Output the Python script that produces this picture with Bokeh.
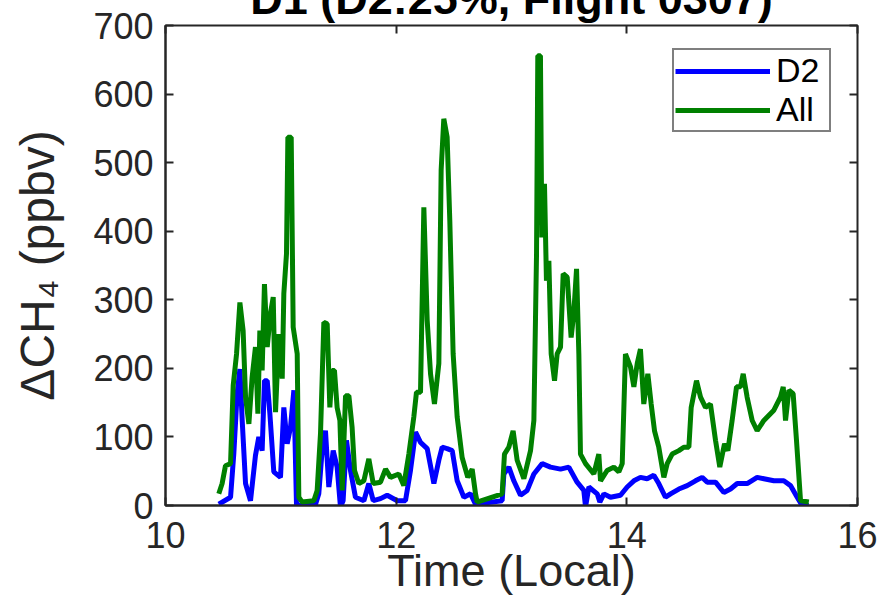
from bokeh.plotting import figure
from bokeh.models import (LinearAxis, FixedTicker, Range1d, Legend, LegendItem,
                          ColumnDataSource)
from bokeh.embed import file_html
from bokeh.resources import INLINE

# ---------------- data ----------------
all_time = [10.462, 10.491, 10.520, 10.564, 10.587, 10.616, 10.645, 10.673, 10.694, 10.723,
            10.751, 10.780, 10.801, 10.818, 10.838, 10.858, 10.882, 10.910, 10.934, 10.954,
            10.983, 11.012, 11.026, 11.049, 11.061, 11.090, 11.107, 11.142, 11.156, 11.185,
            11.286, 11.315, 11.344, 11.373, 11.402, 11.425, 11.445, 11.465, 11.488, 11.512,
            11.532, 11.561, 11.590, 11.618, 11.639, 11.676, 11.720, 11.763, 11.801, 11.864,
            11.908, 11.951, 12.023, 12.066, 12.110, 12.153, 12.176, 12.211, 12.240, 12.269,
            12.298, 12.332, 12.370, 12.390, 12.413, 12.442, 12.465, 12.494, 12.529, 12.572,
            12.621, 12.659, 12.688, 12.702, 12.919, 12.939, 12.977, 13.014, 13.049, 13.107,
            13.165, 13.194, 13.217, 13.228, 13.251, 13.263, 13.286, 13.303, 13.324, 13.344,
            13.373, 13.396, 13.425, 13.448, 13.483, 13.517, 13.540, 13.564, 13.584, 13.598,
            13.642, 13.714, 13.757, 13.772, 13.829, 13.887, 13.931, 13.960, 13.988, 14.032,
            14.061, 14.090, 14.118, 14.147, 14.182, 14.211, 14.240, 14.277, 14.321, 14.350,
            14.393, 14.451, 14.494, 14.538, 14.558, 14.604, 14.639, 14.682, 14.725, 14.769,
            14.806, 14.847, 14.876, 14.913, 14.951, 14.986, 15.009, 15.043, 15.087, 15.130,
            15.188, 15.275, 15.332, 15.356, 15.376, 15.405, 15.442, 15.471, 15.506, 15.578]
all_ch4 = [17, 32, 58, 61, 175, 221, 296, 255, 158, 119,
           187, 231, 134, 255, 197, 323, 231, 280, 304, 136,
           250, 185, 309, 367, 537, 537, 260, 221, 12, 5,
           7, 22, 105, 267, 265, 143, 197, 197, 143, 124,
           22, 160, 160, 114, 51, 32, 36, 68, 32, 34,
           53, 41, 46, 29, 75, 129, 165, 165, 435, 270,
           192, 148, 207, 489, 564, 537, 416, 221, 129, 70,
           41, 53, 17, 5, 17, 75, 85, 109, 66, 39,
           80, 124, 367, 656, 656, 391, 469, 328, 357, 221,
           182, 221, 231, 338, 333, 245, 280, 345, 221, 75,
           61, 46, 75, 36, 51, 56, 49, 61, 221, 202,
           173, 207, 228, 148, 192, 148, 109, 85, 41, 61,
           75, 80, 85, 85, 143, 182, 158, 143, 148, 95,
           56, 90, 80, 124, 173, 173, 192, 158, 124, 109,
           124, 139, 158, 173, 124, 168, 163, 95, 7, 5]

d2_time = [10.462, 10.564, 10.592, 10.621, 10.645, 10.665, 10.694, 10.737, 10.780, 10.809,
           10.838, 10.858, 10.882, 10.905, 10.939, 10.997, 11.026, 11.055, 11.084, 11.113,
           11.136, 11.301, 11.329, 11.358, 11.387, 11.416, 11.454, 11.488, 11.517, 11.540,
           11.569, 11.604, 11.647, 11.720, 11.763, 11.801, 11.864, 11.922, 12.009, 12.081,
           12.124, 12.168, 12.211, 12.269, 12.327, 12.370, 12.399, 12.442, 12.486, 12.529,
           12.587, 12.645, 12.688, 12.919, 12.934, 12.977, 13.020, 13.078, 13.136, 13.194,
           13.266, 13.338, 13.425, 13.497, 13.569, 13.627, 13.642, 13.671, 13.743, 13.766,
           13.801, 13.858, 13.945, 14.003, 14.061, 14.118, 14.176, 14.234, 14.277, 14.335,
           14.379, 14.451, 14.523, 14.595, 14.653, 14.697, 14.769, 14.841, 14.899, 14.957,
           15.043, 15.130, 15.188, 15.275, 15.361, 15.419, 15.477, 15.520, 15.578]
d2_ch4 = [2, 12, 75, 163, 199, 124, 32, 7, 73, 100,
          80, 182, 182, 134, 49, 41, 143, 90, 114, 168,
          0, 2, 17, 80, 109, 27, 80, 56, -2, 7,
          95, 51, 12, 7, 32, 7, 10, 15, 7, 7,
          51, 107, 92, 83, 32, 66, 85, 83, 80, 36,
          12, 17, 2, 7, 46, 56, 36, 15, 22, 46,
          61, 56, 53, 56, 34, 22, -2, 27, 17, 5,
          17, 12, 15, 27, 36, 41, 39, 44, 32, 12,
          17, 24, 29, 36, 41, 34, 34, 19, 24, 32,
          32, 41, 39, 36, 36, 29, 12, 0, 0]

x_ticks = [10, 12, 14, 16]
y_ticks = [0, 100, 200, 300, 400, 500, 600, 700]
series_labels = ["D2", "All"]
title_text = "D1 (D2:25%, Flight 0307)"
x_label = "Time (Local)"
y_label = "ΔCH₄ (ppbv)"

# ---------------- figure ----------------
FONT = "Liberation Sans"
AX = "#262626"

# The original is cropped through its title: the figure is drawn with room for
# the whole title and then shifted up so only the title's lower part shows.
p = figure(frame_width=692, frame_height=480, x_range=Range1d(10, 16), y_range=Range1d(0, 700),
           output_backend="svg", toolbar_location=None,
           min_border_left=165, min_border_right=29, min_border_top=60, min_border_bottom=97,
           margin=(-35, 0, 0, 0))
p.grid.visible = False
p.outline_line_color = AX
p.outline_line_width = 2
p.background_fill_color = "white"
p.border_fill_color = "white"

src_d2 = ColumnDataSource(dict(t=d2_time, v=d2_ch4))
src_all = ColumnDataSource(dict(t=all_time, v=all_ch4))
r_d2 = p.line("t", "v", source=src_d2, line_color="#0000FF", line_width=5)
r_all = p.line("t", "v", source=src_all, line_color="#008000", line_width=5)

def style_axis(ax, show_labels=True):
    ax.axis_line_color = AX
    ax.axis_line_width = 2
    ax.major_tick_line_color = AX
    ax.major_tick_line_width = 2
    ax.major_tick_in = 8
    ax.major_tick_out = 0
    ax.minor_tick_line_color = None
    ax.major_label_text_font = FONT
    ax.major_label_text_color = AX
    ax.axis_label_text_font = FONT
    ax.axis_label_text_color = AX
    ax.axis_label_text_font_style = "normal"
    if not show_labels:
        ax.major_label_text_font_size = "0px"
        ax.major_label_text_color = None
        ax.major_label_standoff = 0
        ax.axis_line_color = None

xa = p.xaxis[0]
ya = p.yaxis[0]
xa.ticker = FixedTicker(ticks=x_ticks)
ya.ticker = FixedTicker(ticks=y_ticks)
style_axis(xa)
style_axis(ya)
xa.major_label_text_font_size = "36px"
ya.major_label_text_font_size = "36px"
xa.axis_label = x_label
ya.axis_label = y_label
xa.axis_label_text_font_size = "45px"
ya.axis_label_text_font_size = "48px"
xa.major_label_standoff = 16
ya.major_label_standoff = 12
xa.axis_label_standoff = -6
ya.axis_label_standoff = 26

top = LinearAxis(ticker=FixedTicker(ticks=x_ticks))
right = LinearAxis(ticker=FixedTicker(ticks=y_ticks))
style_axis(top, False)
style_axis(right, False)
p.add_layout(top, "above")
p.add_layout(right, "right")

p.title.text = title_text
p.title.align = "center"
p.title.text_font = FONT
p.title.text_font_size = "45px"
p.title.text_font_style = "bold"
p.title.text_color = "black"
p.title.standoff = 4
p.title.vertical_align = "bottom"

legend = Legend(items=[LegendItem(label=series_labels[0], renderers=[r_d2]),
                       LegendItem(label=series_labels[1], renderers=[r_all])],
                location=(507, 373))
legend.border_line_color = "black"
legend.border_line_width = 2
legend.background_fill_color = "white"
legend.background_fill_alpha = 1
legend.label_text_font = FONT
legend.label_text_font_size = "34px"
legend.label_text_color = "black"
legend.glyph_width = 95
legend.glyph_height = 34
legend.label_height = 34
legend.label_width = 52
legend.label_standoff = 6
legend.spacing = 0
legend.padding = 1
legend.margin = 0
p.add_layout(legend)

open("out.html", "w").write(file_html(p, INLINE))
